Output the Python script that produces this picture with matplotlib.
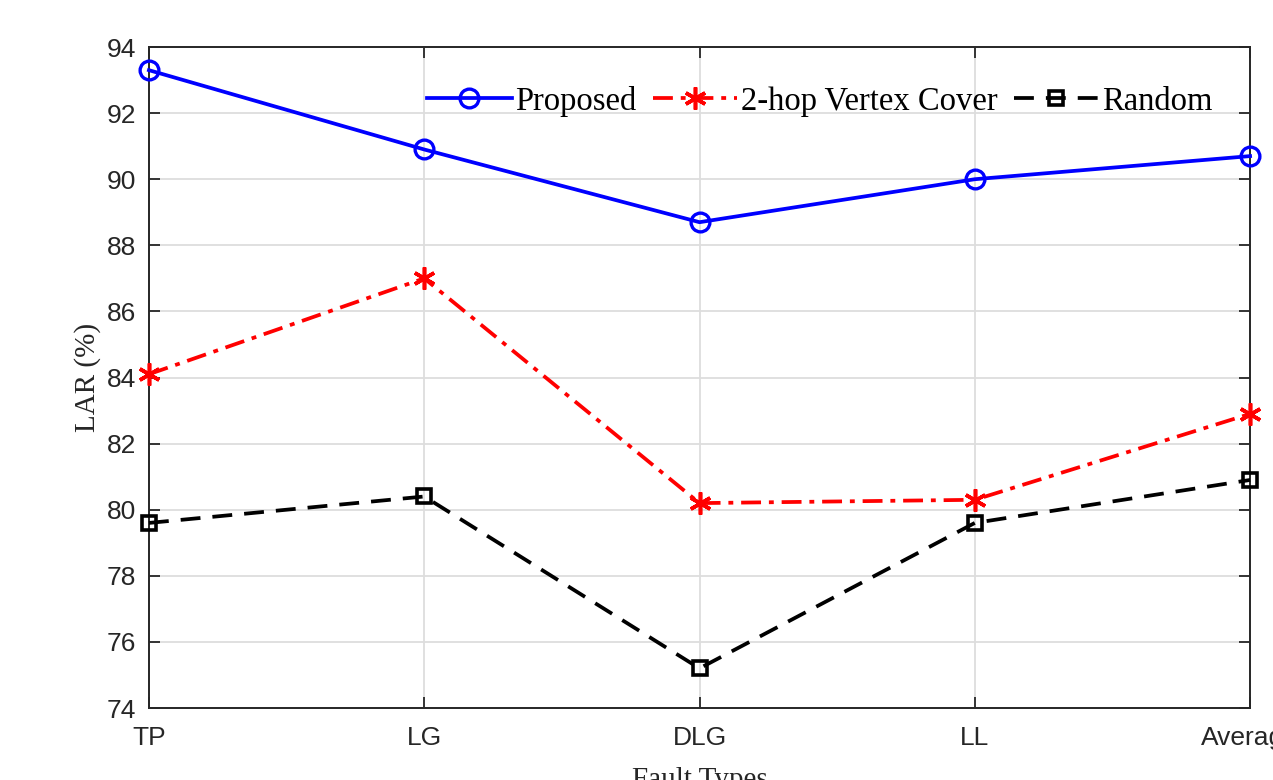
import matplotlib
matplotlib.use("Agg")
import matplotlib.pyplot as plt

# fault types on the x axis
fault_types = ["TP", "LG", "DLG", "LL", "Average"]

# LAR (%)
proposed = [93.3, 90.9, 88.7, 90.0, 90.7]
two_hop = [84.1, 87.0, 80.2, 80.3, 82.9]
random_sel = [79.6, 80.4, 75.2, 79.6, 80.9]

yticks = list(range(74, 95, 2))

plt.rcParams["font.family"] = ["Liberation Sans", "DejaVu Sans"]
serif = ["Liberation Serif", "DejaVu Serif"]

fig = plt.figure(figsize=(12.73, 7.8), dpi=100)
ax = fig.add_axes([0.117, 0.0923, 0.865, 0.8474])

x = list(range(len(fault_types)))
ax.plot(x, proposed, color="blue", lw=2.7, marker="o", ms=13.5, mew=2.4,
        mfc="none", label="Proposed", clip_on=False, zorder=5)
ax.plot(x, two_hop, color="red", lw=2.7, ls=(0, (5.3, 2.1, 1.3, 2.1)),
        marker=(6, 2, 0), ms=16, mew=2.6, label="2-hop Vertex Cover",
        clip_on=False, zorder=4)
ax.plot(x, random_sel, color="black", lw=2.7, ls=(0, (5.3, 3.2)),
        marker="s", ms=10.5, mew=2.6, mfc="none", label="Random",
        clip_on=False, zorder=3)

ax.set_xlim(0, 4)
ax.set_ylim(74, 94)
ax.set_xticks(x)
ax.set_xticklabels(fault_types)
ax.set_yticks(yticks)

ax.grid(True, color="#dddddd", lw=1.3)
ax.set_axisbelow(True)
ax.tick_params(direction="in", length=8, width=1.3, colors="#262626",
               labelsize=19, top=True, right=True)
ax.tick_params(axis="x", pad=13)
ax.tick_params(axis="y", pad=9)
for s in ax.spines.values():
    s.set_color("#262626")
    s.set_linewidth(1.4)

ax.set_ylabel("LAR (%)", fontsize=21, family=serif, color="#262626", labelpad=4)
ax.set_xlabel("Fault Types", fontsize=21, family=serif, color="#262626", labelpad=12)

leg = ax.legend(loc="center", bbox_to_anchor=(0.609, 0.918), ncol=3,
                frameon=False, prop={"family": serif, "size": 23.5},
                handlelength=2.6, handletextpad=0.1, columnspacing=0.5,
                borderaxespad=0)

fig.savefig("out.png", dpi=100)
